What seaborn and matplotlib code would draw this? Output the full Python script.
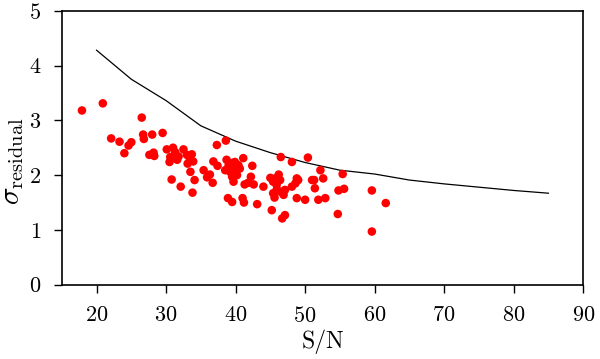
import numpy as np
import pandas as pd
import matplotlib
matplotlib.use("Agg")
import matplotlib.pyplot as plt
import seaborn as sns

# scatter points: signal-to-noise vs residual scatter
sn = [17.9, 20.9, 22.1, 23.3, 24.0, 24.6, 25.0, 26.5, 26.7, 26.8, 28.0, 27.6, 28.2, 28.3, 29.5,
      30.1, 30.5, 30.8, 30.6, 31.0, 31.3, 31.6, 31.8, 32.1, 32.5, 33.0, 33.1, 33.4, 33.7, 33.9,
      33.5, 33.8, 34.1, 35.4, 35.9, 36.3, 36.7, 36.8, 37.3, 37.4,
      38.6, 38.7, 39.0, 39.5, 39.9, 41.1, 40.4, 38.5, 39.2, 39.9, 40.6, 39.5, 40.2, 39.7, 40.0, 39.3,
      38.9, 39.5, 41.0, 41.2, 41.3, 41.8, 42.2, 42.4, 42.6, 43.1, 44.0,
      45.0, 45.2, 45.4, 45.7, 45.9, 46.2, 46.4, 45.4, 45.9, 46.4, 46.9, 45.6, 47.1, 46.5, 46.7,
      47.1, 48.1, 48.1, 48.6, 48.8, 49.0, 48.8, 50.0, 50.4, 51.0, 51.3, 51.4, 51.9, 52.2, 52.6,
      52.9, 54.7, 54.8, 55.4, 55.6, 59.6, 59.6, 61.6]
sigma = [3.18, 3.31, 2.67, 2.61, 2.40, 2.54, 2.60, 3.05, 2.74, 2.66, 2.74, 2.37, 2.41, 2.35, 2.77,
         2.47, 2.24, 1.92, 2.33, 2.50, 2.42, 2.28, 2.34, 1.79, 2.47, 2.37, 2.21, 2.31, 2.38, 2.25,
         2.06, 1.68, 1.91, 2.09, 1.96, 2.01, 1.86, 2.25, 2.55, 2.17,
         2.63, 2.28, 2.18, 2.22, 2.24, 2.31, 2.18, 2.09, 2.06, 2.09, 2.12, 1.97, 2.00, 1.88, 2.15, 2.12,
         1.58, 1.51, 1.58, 1.50, 1.83, 1.86, 1.97, 2.17, 1.83, 1.47, 1.79,
         1.95, 1.36, 1.88, 1.94, 1.82, 2.01, 1.91, 1.67, 1.73, 1.70, 1.64, 1.59, 1.73, 2.33, 1.21,
         1.27, 2.24, 1.79, 1.85, 1.94, 1.91, 1.58, 1.55, 2.32, 1.91, 1.91, 1.76, 1.55, 2.09, 1.94,
         1.58, 1.29, 1.72, 2.02, 1.75, 1.72, 0.97, 1.49]

# expected curve
curve_sn = [20, 25, 30, 35, 40, 45, 50, 55, 60, 65, 70, 75, 80, 85]
curve_sigma = [4.28, 3.75, 3.36, 2.90, 2.62, 2.41, 2.23, 2.09, 2.02, 1.91, 1.84, 1.78, 1.72, 1.67]

points = pd.DataFrame({"sn": sn, "sigma": sigma})
curve = pd.DataFrame({"sn": curve_sn, "sigma": curve_sigma})

plt.rcParams["font.family"] = "cmr10"
plt.rcParams["mathtext.fontset"] = "cm"
plt.rcParams["axes.unicode_minus"] = False
plt.rcParams["axes.formatter.use_mathtext"] = True

fig = plt.figure(figsize=(6, 3.59), dpi=100)
ax = fig.add_axes([0.103, 0.207, 0.869, 0.763])

sns.lineplot(data=curve, x="sn", y="sigma", color="black", linewidth=0.9, ax=ax)
sns.scatterplot(data=points, x="sn", y="sigma", color="red", edgecolor="none", s=38, ax=ax, zorder=3)

ax.set_xlim(15, 90)
ax.set_ylim(0, 5)
ax.set_xticks([20, 30, 40, 50, 60, 70, 80, 90])
ax.set_yticks([0, 1, 2, 3, 4, 5])
ax.tick_params(axis="both", direction="out", length=6, width=1, labelsize=16,
               top=False, right=False, pad=9)
for sp in ax.spines.values():
    sp.set_linewidth(1.2)
    sp.set_color("black")

ax.set_xlabel("S/N", fontsize=17)
ax.set_ylabel(r"$\sigma_{\rm residual}$", fontsize=21)
ax.xaxis.set_label_coords(0.5, -0.165)
ax.yaxis.set_label_coords(-0.068, 0.45)

fig.savefig("out.png", dpi=100)
